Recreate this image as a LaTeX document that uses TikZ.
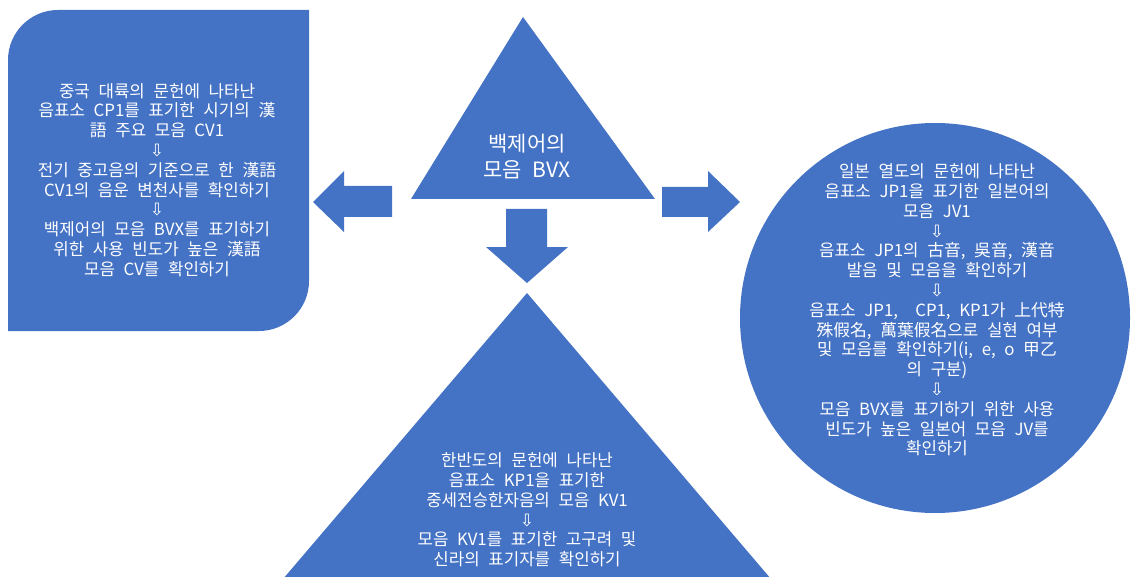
\documentclass[tikz,border=0pt]{standalone}
\usepackage{fontspec}
\setmainfont{Noto Sans CJK KR}[WordSpace=2.3]
\newfontfamily\arrfont{DejaVu Sans}
\definecolor{blk}{HTML}{4472C4}
\newcommand\dnarr{{\arrfont\fontsize{17pt}{19.8pt}\selectfont ⇩}}
\begin{document}
\begin{tikzpicture}[x=1pt,y=-1pt,
  blkfill/.style={fill=blk},
  txt/.style={text=white, align=center, inner sep=0pt,
    font=\fontsize{16.8pt}{19.8pt}\selectfont},
  bigtxt/.style={text=white, align=center, inner sep=0pt,
    font=\fontsize{21pt}{26pt}\selectfont}]
\useasboundingbox (0,0) rectangle (1131,577);
\clip (0,0) rectangle (1131,577);
% left box (round diagonal corners)
\fill[blkfill] (8,60) .. controls (8,32.4) and (30.4,10) .. (58,10) -- (309,10) -- (309,281)
  .. controls (309,308.6) and (286.6,331) .. (259,331) -- (8,331) -- cycle;
% top triangle
\fill[blkfill] (523,17) -- (411,199) -- (655,199) -- cycle;
% right circle
\fill[blkfill] (935,318) circle[radius=195];
% bottom triangle
\fill[blkfill] (527,293) -- (248,620) -- (806,620) -- cycle;
% block arrows
\fill[blkfill] (313,202) -- (344,171) -- (344,186) -- (392,186) -- (392,217) -- (344,217) -- (344,232) -- cycle;
\fill[blkfill] (740,202) -- (708,171) -- (708,187) -- (662,187) -- (662,217) -- (708,217) -- (708,232) -- cycle;
\fill[blkfill] (527,283) -- (486,247) -- (506,247) -- (506,209) -- (547,209) -- (547,247) -- (568,247) -- cycle;
% texts
\node[bigtxt] (center) at (527,157) {백제어의\\모음 BVX};
\node[txt] (china) at (157,180) {중국 대륙의 문헌에 나타난\\음표소 CP1를 표기한 시기의 漢\\語 주요 모음 CV1\\\dnarr\\전기 중고음의 기준으로 한 漢語\\CV1의 음운 변천사를 확인하기\\\dnarr\\백제어의 모음 BVX를 표기하기\\위한 사용 빈도가 높은 漢語\\모음 CV를 확인하기};
\node[txt] (japan) at (937,310) {일본 열도의 문헌에 나타난\\음표소 JP1을 표기한 일본어의\\모음 JV1\\\dnarr\\음표소 JP1의 古音, 吳音, 漢音\\발음 및 모음을 확인하기\\\dnarr\\음표소 JP1,\ \ CP1, KP1가 上代特\\殊假名, 萬葉假名으로 실현 여부\\및 모음를 확인하기(i, e, o 甲乙\\의 구분)\\\dnarr\\모음 BVX를 표기하기 위한 사용\\빈도가 높은 일본어 모음 JV를\\확인하기};
\node[txt] (korea) at (527,510) {한반도의 문헌에 나타난\\음표소 KP1을 표기한\\중세전승한자음의 모음 KV1\\\dnarr\\모음 KV1를 표기한 고구려 및\\신라의 표기자를 확인하기};
\end{tikzpicture}
\end{document}
